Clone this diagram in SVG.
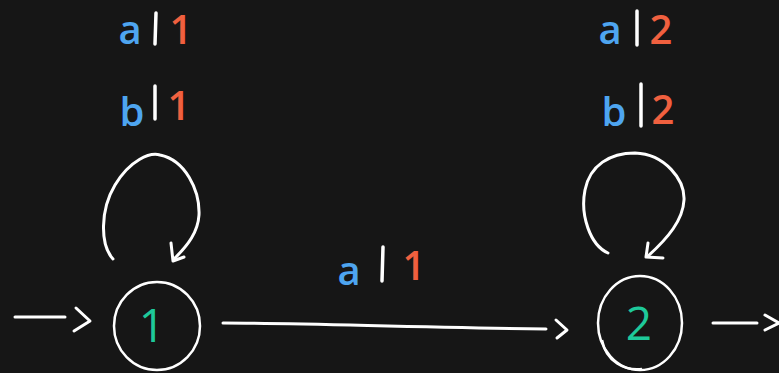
<svg xmlns="http://www.w3.org/2000/svg" width="779" height="373" viewBox="0 0 779 373">
<defs>
<style>
.bg{fill:#161616}
.ln{fill:none;stroke:#ffffff;stroke-width:3;stroke-linecap:round;stroke-linejoin:round}
.st{fill:none;stroke:#ffffff;stroke-width:2.5}
.t{font-family:"Open Sans","Liberation Sans",sans-serif;text-anchor:middle;font-weight:600}
.in{fill:#4ea5f0;font-size:40px}
.out{fill:#f0603f;font-size:40px}
.bar{fill:none;stroke:#ffffff;stroke-width:3.5;stroke-linecap:round}
.num{fill:#1ec99a;font-size:46px;font-weight:400}
</style>
</defs>
<rect class="bg" x="0" y="0" width="779" height="373"/>
<g id="labels-1">
<text class="t in" x="130" y="44">a</text>
<line class="bar" x1="156" y1="13" x2="155" y2="44"/>
<text class="t out" x="181" y="44">1</text>
<text class="t in" x="132" y="126">b</text>
<line class="bar" x1="155" y1="86" x2="155" y2="119"/>
<text class="t out" x="179" y="120">1</text>
</g>
<g id="labels-2">
<text class="t in" x="610" y="44">a</text>
<line class="bar" x1="637" y1="11" x2="637" y2="45"/>
<text class="t out" x="661" y="44">2</text>
<text class="t in" x="614" y="126">b</text>
<line class="bar" x1="641" y1="84" x2="641" y2="126"/>
<text class="t out" x="663" y="124">2</text>
</g>
<g id="label-12">
<text class="t in" x="349" y="285">a</text>
<line class="bar" x1="383" y1="247" x2="382" y2="281"/>
<text class="t out" x="414" y="280">1</text>
</g>
<g id="node-1">
<ellipse class="st" cx="157" cy="326" rx="43" ry="44"/>
<text class="t num" x="152" y="342">1</text>
</g>
<g id="node-2">
<ellipse class="st" cx="640" cy="323" rx="42" ry="47"/>
<path class="st" d="M602 340 C606 362 625 371 642 369" stroke-width="1.5"/>
<text class="t num" x="639" y="340">2</text>
</g>
<g id="connectors">
<path class="ln" d="M113 259 C100 245 100 210 115 185 C130 160 150 152 160 155 C185 160 200 190 199 215 C198 232 188 245 175 258"/>
<path class="ln" d="M171 243 L173 261 L184 257"/>
<path class="ln" d="M608 253 C590 245 580 215 585 190 C590 165 610 153 635 153 C665 154 685 180 684 200 C683 220 668 238 648 256"/>
<path class="ln" d="M648 243 L646 257 L663 258"/>
<path class="ln" d="M15 317 L65 317"/>
<path class="ln" d="M76 308 L90 321 L74 331"/>
<path class="ln" d="M223 323 C300 323 400 327 546 329"/>
<path class="ln" d="M556 320 L567 330 L557 338"/>
<path class="ln" d="M713 323 L757 323"/>
<path class="ln" d="M765 315 L779 323 L765 330"/>
</g>
</svg>
